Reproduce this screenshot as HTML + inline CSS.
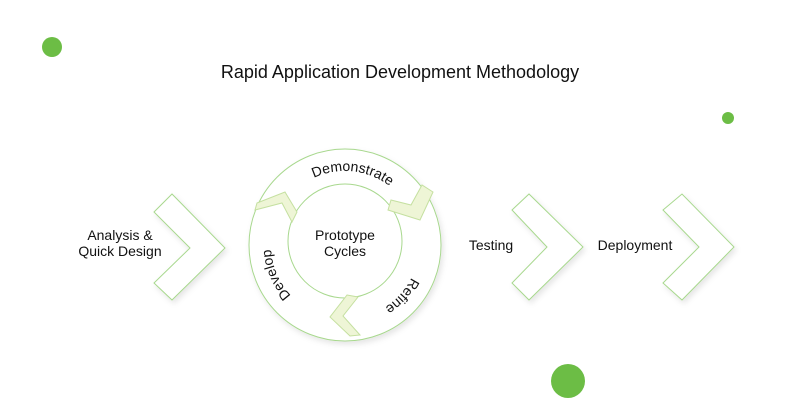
<!DOCTYPE html>
<html><head><meta charset="utf-8"><style>
html,body{margin:0;padding:0;background:#fff;}
svg{display:block;font-family:"Liberation Sans",sans-serif;}
</style></head><body>
<svg width="800" height="407" viewBox="0 0 800 407" xmlns="http://www.w3.org/2000/svg">
<defs>
<filter id="sh" x="-30%" y="-30%" width="160%" height="160%"><feDropShadow dx="2" dy="3" stdDeviation="3" flood-color="#000" flood-opacity="0.10"/></filter>
<path id="arc" d="M345,319 A74,74 0 1,1 345,171 A74,74 0 1,1 345,319"/>
</defs>
<circle cx="52" cy="47" r="10" fill="#6cbd45"/>
<circle cx="728" cy="118" r="6" fill="#6cbd45"/>
<circle cx="568" cy="381" r="17" fill="#6cbd45"/>
<text x="400" y="78" font-size="18" text-anchor="middle" fill="#111">Rapid Application Development Methodology</text>

<g fill="#fff" stroke="#a8d88e" stroke-width="1" filter="url(#sh)">
<polygon points="154,212 172,194 225,248 172,300 154,283 190,248"/>
<polygon points="512,210 529,194 583,247 529,300 512,283 547,247"/>
<polygon points="663,210 682,194 734,247 682,300 663,283 699,247"/>
<circle cx="345" cy="245" r="96"/>
</g>
<circle cx="345" cy="241" r="57" fill="#fff" stroke="#a8d88e"/>
<g fill="#eef5d6" stroke="#c5e0a0" stroke-width="1">
<polygon points="257,203 285,192 297,212 292,222 282,203 255,210"/>
<polygon points="422,185 411,205 391,200 388,210 420,220 433,192"/>
<polygon points="347,295 358,297 343,316 360,335 350,336 330,317"/>
</g>
<g font-size="14" fill="#111">
<text x="120" y="240" text-anchor="middle">Analysis &amp;</text>
<text x="120" y="256" text-anchor="middle">Quick Design</text>
<text x="491" y="250" text-anchor="middle">Testing</text>
<text x="635" y="250" text-anchor="middle">Deployment</text>
<text x="345" y="240" text-anchor="middle">Prototype</text>
<text x="345" y="256" text-anchor="middle">Cycles</text>
<text text-anchor="middle"><textPath href="#arc" startOffset="240">Demonstrate</textPath></text>
<text text-anchor="middle"><textPath href="#arc" startOffset="402">Refine</textPath></text>
<text text-anchor="middle"><textPath href="#arc" startOffset="86">Develop</textPath></text>
</g>
</svg>
</body></html>
